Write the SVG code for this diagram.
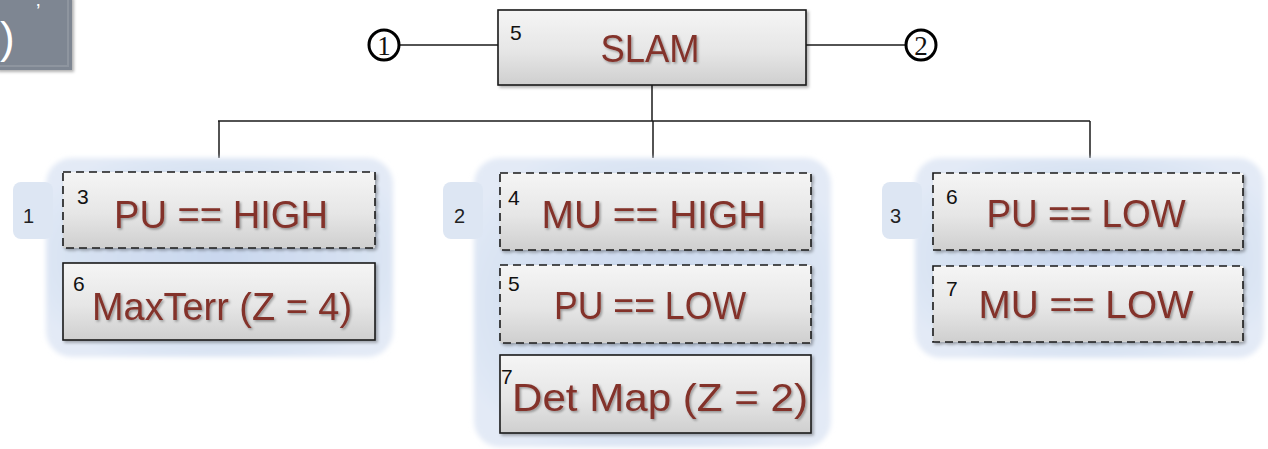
<svg xmlns="http://www.w3.org/2000/svg" width="1268" height="449" viewBox="0 0 1268 449">
  <defs>
    <linearGradient id="boxFill" x1="0" y1="0" x2="0" y2="1">
      <stop offset="0" stop-color="#f5f5f5"/>
      <stop offset="0.55" stop-color="#e6e6e6"/>
      <stop offset="1" stop-color="#cfcfcf"/>
    </linearGradient>
    <radialGradient id="groupFill" cx="0.5" cy="0.5" r="0.6">
      <stop offset="0" stop-color="#c9d7ee"/>
      <stop offset="0.7" stop-color="#d7e2f2"/>
      <stop offset="1" stop-color="#e3eaf6"/>
    </radialGradient>
    <filter id="boxShadow" x="-10%" y="-10%" width="120%" height="130%">
      <feDropShadow dx="2" dy="2" stdDeviation="1.5" flood-color="#000" flood-opacity="0.3"/>
    </filter>
    <filter id="textShadow" x="-5%" y="-20%" width="110%" height="140%">
      <feDropShadow dx="1.5" dy="1.5" stdDeviation="1" flood-color="#000" flood-opacity="0.35"/>
    </filter>
    <filter id="soft" x="-5%" y="-5%" width="110%" height="110%">
      <feGaussianBlur stdDeviation="2.5"/>
    </filter>
  </defs>
  <style>
    .grp { fill: url(#groupFill); filter: url(#soft); }
    .tab { fill: #dde6f3; }
    .tabtxt { font-family: "Liberation Sans", Arial, sans-serif; font-size: 20px; fill: #222; }
    .box { fill: url(#boxFill); stroke: #1a1a1a; stroke-width: 1.6; filter: url(#boxShadow); }
    .dash { stroke-dasharray: 8 5; }
    .lbl { font-family: "Liberation Sans", Arial, sans-serif; font-size: 38px; fill: #83322a; text-anchor: middle; filter: url(#textShadow); }
    .sup { font-family: "Liberation Sans", Arial, sans-serif; font-size: 21px; fill: #111; }
    .wire { stroke: #1a1a1a; stroke-width: 1.5; fill: none; }
    .ring { fill: #fff; stroke: #000; stroke-width: 3; }
    .ringtxt { font-family: "Liberation Serif", "Times New Roman", serif; font-size: 27px; fill: #111; text-anchor: middle; }
  </style>

  <!-- slide title block in the corner -->
  <g id="corner-title">
    <rect x="-4" y="-4" width="76" height="74" fill="#7e8692" filter="url(#boxShadow)"/>
    <rect x="-4" y="-4" width="72" height="70" fill="none" stroke="#8e959f" stroke-width="2"/>
    <text x="0" y="53" font-family="Liberation Sans, Arial, sans-serif" font-size="44" fill="#ffffff">)</text>
    <text x="36" y="18" font-family="Liberation Sans, Arial, sans-serif" font-size="20" fill="#ffffff">’</text>
  </g>

  <!-- connectors -->
  <g id="connectors">
    <line class="wire" x1="399" y1="45" x2="498" y2="45"/>
    <line class="wire" x1="806" y1="45" x2="906" y2="45"/>
    <line class="wire" x1="652" y1="85" x2="652" y2="121"/>
    <line class="wire" x1="218" y1="121" x2="1090" y2="121"/>
    <line class="wire" x1="219" y1="121" x2="219" y2="158"/>
    <line class="wire" x1="653" y1="121" x2="653" y2="158"/>
    <line class="wire" x1="1090" y1="121" x2="1090" y2="158"/>
  </g>

  <!-- terminals -->
  <g id="terminal-1">
    <circle class="ring" cx="384" cy="45" r="15"/>
    <text class="ringtxt" x="384" y="55">1</text>
  </g>
  <g id="terminal-2">
    <circle class="ring" cx="921" cy="45" r="15"/>
    <text class="ringtxt" x="921" y="55">2</text>
  </g>

  <!-- root -->
  <g id="slam">
    <rect class="box" x="498" y="10" width="308" height="75"/>
    <text class="sup" x="510" y="40">5</text>
    <text class="lbl" x="650" y="62" font-size="39" textLength="99" lengthAdjust="spacingAndGlyphs">SLAM</text>
  </g>

  <!-- branch 1 -->
  <g id="branch-1">
    <rect class="grp" x="46" y="158" width="347" height="199" rx="26"/>
    <rect class="tab" x="13" y="182" width="40" height="57" rx="8"/>
    <text class="tabtxt" x="23" y="223">1</text>
    <g id="b1-pu-high">
      <rect class="box dash" x="63" y="172" width="312" height="76"/>
      <text class="sup" x="77" y="204">3</text>
      <text class="lbl" x="221" y="228" textLength="214" lengthAdjust="spacingAndGlyphs">PU == HIGH</text>
    </g>
    <g id="b1-maxterr">
      <rect class="box" x="63" y="263" width="312" height="77"/>
      <text class="sup" x="73" y="291">6</text>
      <text class="lbl" x="222" y="320" textLength="260" lengthAdjust="spacingAndGlyphs">MaxTerr (Z = 4)</text>
    </g>
  </g>

  <!-- branch 2 -->
  <g id="branch-2">
    <rect class="grp" x="474" y="158" width="357" height="289" rx="26"/>
    <rect class="tab" x="443" y="182" width="40" height="57" rx="8"/>
    <text class="tabtxt" x="454" y="223">2</text>
    <g id="b2-mu-high">
      <rect class="box dash" x="500" y="173" width="311" height="77"/>
      <text class="sup" x="508" y="205">4</text>
      <text class="lbl" x="654" y="228" textLength="225" lengthAdjust="spacingAndGlyphs">MU == HIGH</text>
    </g>
    <g id="b2-pu-low">
      <rect class="box dash" x="500" y="265" width="311" height="78"/>
      <text class="sup" x="508" y="291">5</text>
      <text class="lbl" x="650" y="319" textLength="192" lengthAdjust="spacingAndGlyphs">PU == LOW</text>
    </g>
    <g id="b2-detmap">
      <rect class="box" x="500" y="355" width="311" height="78"/>
      <text class="sup" x="501" y="384">7</text>
      <text class="lbl" x="660" y="411" textLength="296" lengthAdjust="spacingAndGlyphs">Det Map (Z = 2)</text>
    </g>
  </g>

  <!-- branch 3 -->
  <g id="branch-3">
    <rect class="grp" x="915" y="158" width="349" height="200" rx="26"/>
    <rect class="tab" x="882" y="182" width="40" height="57" rx="8"/>
    <text class="tabtxt" x="890" y="223">3</text>
    <g id="b3-pu-low">
      <rect class="box dash" x="933" y="173" width="310" height="77"/>
      <text class="sup" x="946" y="204">6</text>
      <text class="lbl" x="1086" y="227" textLength="199" lengthAdjust="spacingAndGlyphs">PU == LOW</text>
    </g>
    <g id="b3-mu-low">
      <rect class="box dash" x="933" y="266" width="310" height="76"/>
      <text class="sup" x="946" y="296">7</text>
      <text class="lbl" x="1086" y="318" textLength="215" lengthAdjust="spacingAndGlyphs">MU == LOW</text>
    </g>
  </g>
</svg>
